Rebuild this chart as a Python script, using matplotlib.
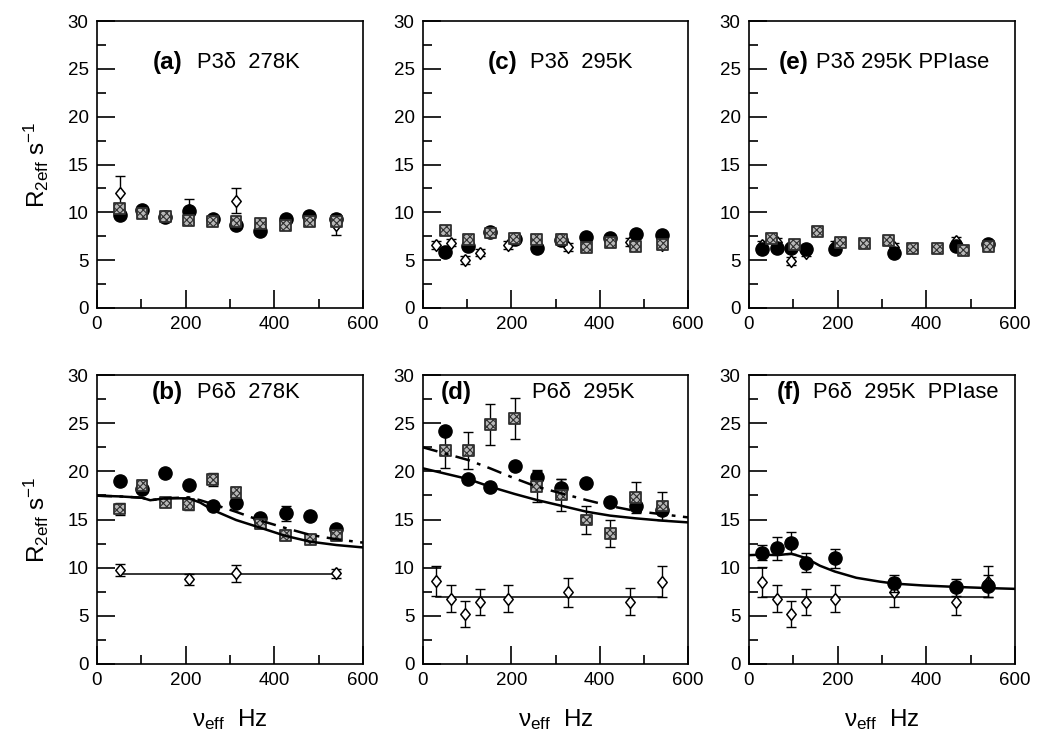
import matplotlib
matplotlib.use("Agg")
import matplotlib.pyplot as plt
from matplotlib.ticker import MultipleLocator

plt.rcParams['font.family'] = ['Liberation Sans', 'DejaVu Sans']
plt.rcParams['mathtext.fontset'] = 'custom'
plt.rcParams['mathtext.rm'] = 'Liberation Sans'
plt.rcParams['mathtext.it'] = 'Liberation Sans:italic'
plt.rcParams['mathtext.bf'] = 'Liberation Sans:bold'
plt.rcParams['hatch.linewidth'] = 0.8

# ---------------- data ----------------
# (a) P3d 278K
a_cx = [51, 101.5, 154, 207, 261, 313.5, 368, 426, 479, 540]
a_cy = [9.75, 10.26, 9.5, 10.16, 9.26, 8.7, 8.0, 9.33, 9.64, 9.26]
a_sx = [51, 101.5, 154, 207, 261, 313.5, 368, 426, 479, 540]
a_sy = [10.44, 9.85, 9.6, 9.16, 9.05, 9.0, 8.8, 8.64, 9.05, 9.0]
a_dx = [51, 207, 313.5, 540]
a_dy = [12.06, 10.2, 11.23, 8.7]
a_de = [1.75, 1.2, 1.3, 1.1]

# (c) P3d 295K
c_cx = [50.6, 102, 152.5, 207.5, 258, 313, 370, 424, 481.5, 542]
c_cy = [5.88, 6.5, 7.95, 7.26, 6.29, 7.08, 7.43, 7.33, 7.7, 7.6]
c_sx = [50.6, 102, 152.5, 207.5, 258, 313, 370, 424, 481.5, 542]
c_sy = [8.12, 7.19, 7.84, 7.26, 7.19, 7.19, 6.32, 6.8, 6.39, 6.63]
c_dx = [30, 62.6, 96, 128, 192.5, 328, 468, 542]
c_dy = [6.56, 6.84, 5.0, 5.8, 6.56, 6.39, 6.9, 6.56]
c_de = [0.4, 0.4, 0.4, 0.4, 0.4, 0.4, 0.4, 0.4]

# (e) P3d 295K PPIase
e_cx = [30, 64, 95.6, 128, 193.5, 327.5, 468, 540]
e_cy = [6.15, 6.29, 6.29, 6.15, 6.15, 5.8, 6.5, 6.74]
e_sx = [50.4, 101.6, 154, 207, 259.7, 314, 368, 425, 483, 540]
e_sy = [7.26, 6.63, 7.95, 6.84, 6.74, 7.08, 6.22, 6.22, 6.05, 6.39]
e_dx = [30, 64, 95.6, 128, 193.5, 327.5, 468, 540]
e_dy = [6.56, 6.9, 4.94, 5.8, 6.56, 6.39, 6.98, 6.56]
e_de = [0.4, 0.4, 0.4, 0.4, 0.4, 0.4, 0.4, 0.4]

# (b) P6d 278K
b_cx = [51, 101.5, 154, 207, 261, 313.5, 368, 426, 481, 540]
b_cy = [19.03, 18.2, 19.86, 18.58, 16.44, 16.68, 15.12, 15.64, 15.4, 13.98]
b_ce = [0.0, 0.0, 0.0, 0.0, 0.0, 0.0, 0.0, 0.8, 0.0, 0.0]
b_sx = [51, 101.5, 154, 207, 261, 313.5, 368, 426, 481, 540]
b_sy = [16.09, 18.5, 16.75, 16.57, 19.17, 17.78, 14.53, 13.32, 12.94, 13.32]
b_se = [0.6, 0.6, 0.4, 0.6, 0.7, 0.6, 0.4, 0.4, 0.4, 0.4]
b_dx = [51, 207, 313.5, 540]
b_dy = [9.76, 8.79, 9.41, 9.41]
b_de = [0.65, 0.6, 0.9, 0.5]
b_flat = 9.31
b_fit_x = [0, 50, 101.5, 120, 154, 207, 233, 261, 313.5, 368, 426, 481, 540, 600]
b_fit_solid = [17.47, 17.4, 17.26, 17.0, 17.2, 17.2, 16.75, 15.99, 14.95, 14.15, 13.29, 12.7, 12.35, 12.1]
b_fit_dash = [17.47, 17.4, 17.26, 17.0, 17.2, 17.3, 17.0, 16.6, 15.8, 14.9, 14.1, 13.4, 12.95, 12.6]

# (d) P6d 295K
d_cx = [50.6, 102, 152.5, 207.5, 258, 313, 370, 424, 481.5, 542]
d_cy = [24.19, 19.17, 18.4, 20.59, 19.45, 18.23, 18.82, 16.78, 16.43, 15.98]
d_ce = [0, 0, 0, 0, 0.7, 1.0, 0, 0, 0.4, 0.5]
d_sx = [50.6, 102, 152.5, 207.5, 258, 313, 370, 424, 481.5, 542]
d_sy = [22.2, 22.15, 24.88, 25.5, 18.4, 17.54, 14.95, 13.5, 17.27, 16.4]
d_se = [1.9, 1.9, 2.1, 2.1, 1.6, 1.7, 1.5, 1.4, 1.6, 1.5]
d_dx = [30.2, 62.6, 96, 128, 192.5, 328, 468, 542]
d_dy = [8.65, 6.75, 5.19, 6.4, 6.75, 7.44, 6.47, 8.55]
d_de = [1.55, 1.4, 1.3, 1.35, 1.4, 1.5, 1.4, 1.6]
d_flat = 6.99
d_fit_x = [0, 102, 152.5, 207.5, 258, 313, 370, 424, 481.5, 542, 600]
d_fit_solid = [20.31, 19.2, 18.4, 17.65, 17.02, 16.43, 15.81, 15.4, 15.12, 14.88, 14.7]
d_fit_dash = [22.49, 21.18, 20.3, 19.27, 18.4, 17.72, 17.02, 16.4, 15.88, 15.54, 15.22]

# (f) P6d 295K PPIase
f_cx = [30, 64, 95.6, 128, 193.5, 327.5, 468, 540]
f_cy = [11.56, 12.0, 12.6, 10.52, 10.97, 8.37, 7.96, 8.1]
f_ce = [0.8, 1.2, 1.15, 1.0, 1.0, 0.85, 0.85, 1.1]
f_dx = [30, 64, 95.6, 128, 193.5, 327.5, 468, 540]
f_dy = [8.55, 6.75, 5.19, 6.4, 6.75, 7.44, 6.47, 8.55]
f_de = [1.55, 1.4, 1.3, 1.35, 1.4, 1.5, 1.4, 1.6]
f_flat = 6.99
f_fit_x = [0, 30, 64, 95.6, 128, 160, 193.5, 242, 295, 327.5, 393, 468, 540, 600]
f_fit_solid = [11.3, 11.35, 11.3, 11.45, 11.0, 10.2, 9.6, 8.95, 8.55, 8.35, 8.15, 8.0, 7.88, 7.8]

titles = [("(a)", "P3δ  278K"), ("(b)", "P6δ  278K"), ("(c)", "P3δ  295K"),
          ("(d)", "P6δ  295K"), ("(e)", "P3δ 295K PPIase"), ("(f)", "P6δ  295K  PPIase")]

# ---------------- layout ----------------
W, H = 1050, 747
fig = plt.figure(figsize=(W / 100, H / 100), dpi=100)
lefts = [97, 423, 749]
widths = [266, 265, 266]
top_row = (21, 308)
bot_row = (375, 664)

DIAMOND = [(0, 1), (0.8, 0), (0, -1), (-0.8, 0), (0, 1)]


def make_ax(col, row):
    t, b = row
    return fig.add_axes([lefts[col] / W, 1 - b / H, widths[col] / W, (b - t) / H])


def style(ax):
    ax.set_xlim(0, 600)
    ax.set_ylim(0, 30)
    ax.xaxis.set_major_locator(MultipleLocator(200))
    ax.xaxis.set_minor_locator(MultipleLocator(100))
    ax.yaxis.set_major_locator(MultipleLocator(5))
    ax.yaxis.set_minor_locator(MultipleLocator(2.5))
    ax.tick_params(which='both', direction='in', top=False, right=False,
                   labelsize=13.5, width=1.2, color='black')
    ax.tick_params(which='major', length=13)
    ax.tick_params(which='minor', length=6.5)
    ax.tick_params(axis='y', pad=6)
    ax.tick_params(axis='x', pad=6)
    for s in ax.spines.values():
        s.set_linewidth(1.2)


def circles(ax, x, y, e=None):
    if e is not None:
        ax.errorbar(x, y, yerr=e, fmt='none', ecolor='black', elinewidth=1,
                    capsize=3.5, capthick=1, zorder=4)
    ax.plot(x, y, 'o', ms=9.5, mfc='black', mec='black', ls='none', zorder=5)


def squares(ax, x, y, e=None):
    if e is not None:
        ax.errorbar(x, y, yerr=e, fmt='none', ecolor='black', elinewidth=1,
                    capsize=3.5, capthick=1, zorder=5)
    ax.scatter(x, y, marker='s', s=62, facecolor='#b8b8b8', edgecolor='#303030',
               linewidths=1.3, hatch='xxxxx', zorder=6)


def diamonds(ax, x, y, e):
    ax.errorbar(x, y, yerr=e, fmt='none', ecolor='black', elinewidth=1,
                capsize=3.5, capthick=1, zorder=3)
    ax.plot(x, y, marker=DIAMOND, ms=8.5, mfc='white', mec='black', mew=1.1,
            ls='none', zorder=3.5)


def title(ax, lab, rest, tx, rx, ty):
    ax.text(tx, ty, lab, transform=ax.transAxes, fontsize=17.5, fontweight='bold',
            ha='left', va='center', zorder=10)
    ax.text(rx, ty, rest, transform=ax.transAxes, fontsize=15.8,
            ha='left', va='center', zorder=10)


# (a)
ax = make_ax(0, top_row); style(ax)
diamonds(ax, a_dx, a_dy, a_de)
circles(ax, a_cx, a_cy)
squares(ax, a_sx, a_sy)
title(ax, *titles[0], 0.21, 0.376, 0.854)

# (c)
ax = make_ax(1, top_row); style(ax)
diamonds(ax, c_dx, c_dy, c_de)
circles(ax, c_cx, c_cy)
squares(ax, c_sx, c_sy)
title(ax, *titles[2], 0.245, 0.404, 0.854)

# (e)
ax = make_ax(2, top_row); style(ax)
circles(ax, e_cx, e_cy)
diamonds(ax, e_dx, e_dy, e_de)
squares(ax, e_sx, e_sy)
title(ax, *titles[4], 0.112, 0.252, 0.854)

# (b)
ax = make_ax(0, bot_row); style(ax)
ax.plot([b_dx[0], b_dx[-1]], [b_flat, b_flat], color='black', lw=1.1, zorder=2)
diamonds(ax, b_dx, b_dy, b_de)
ax.plot(b_fit_x, b_fit_solid, color='black', lw=1.8, zorder=7)
ax.plot(b_fit_x, b_fit_dash, color='black', lw=1.8, ls=(0, (6, 3, 1.5, 3)), zorder=7)
circles(ax, b_cx, b_cy, b_ce)
squares(ax, b_sx, b_sy, b_se)
title(ax, *titles[1], 0.207, 0.376, 0.938)

# (d)
ax = make_ax(1, bot_row); style(ax)
ax.plot([d_dx[0], d_dx[-1]], [d_flat, d_flat], color='black', lw=1.1, zorder=2)
diamonds(ax, d_dx, d_dy, d_de)
ax.plot(d_fit_x, d_fit_solid, color='black', lw=1.8, zorder=7)
ax.plot(d_fit_x, d_fit_dash, color='black', lw=1.8, ls=(0, (6, 3, 1.5, 3)), zorder=7)
circles(ax, d_cx, d_cy, d_ce)
squares(ax, d_sx, d_sy, d_se)
title(ax, *titles[3], 0.068, 0.411, 0.938)

# (f)
ax = make_ax(2, bot_row); style(ax)
ax.plot([f_dx[0], f_dx[-1]], [f_flat, f_flat], color='black', lw=1.1, zorder=2)
diamonds(ax, f_dx, f_dy, f_de)
ax.plot(f_fit_x, f_fit_solid, color='black', lw=1.8, zorder=7)
circles(ax, f_cx, f_cy, f_ce)
title(ax, *titles[5], 0.105, 0.241, 0.938)

# axis labels
ylab = r'R$_{\mathrm{2eff}}$ s$^{-1}$'
fig.text(36 / W, 1 - 165 / H, ylab, rotation=90, fontsize=17.5, ha='center', va='center')
fig.text(36 / W, 1 - 520 / H, ylab, rotation=90, fontsize=17.5, ha='center', va='center')
xlab = r'ν$_{\mathrm{eff}}$  Hz'
for c in range(3):
    cx = (lefts[c] + widths[c] / 2) / W
    fig.text(cx, 1 - 720 / H, xlab, fontsize=17.5, ha='center', va='center')

fig.savefig('out.png', dpi=100)
